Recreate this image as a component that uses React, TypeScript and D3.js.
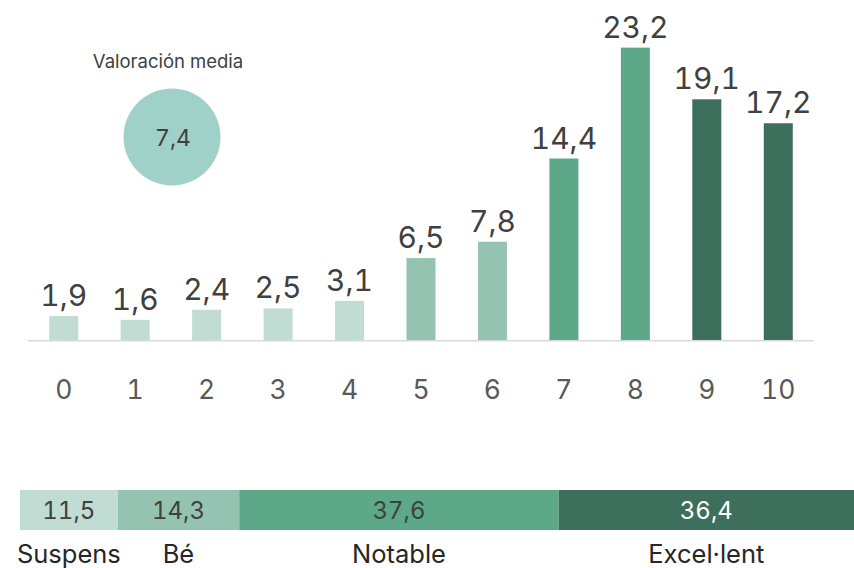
import React from "react";
import * as d3 from "d3";

const grades = ["0", "1", "2", "3", "4", "5", "6", "7", "8", "9", "10"];
const gradeValues = [1.9, 1.6, 2.4, 2.5, 3.1, 6.5, 7.8, 14.4, 23.2, 19.1, 17.2];
const gradeGroup = [0, 0, 0, 0, 0, 1, 1, 2, 2, 3, 3];

const groupNames = ["Suspens", "Bé", "Notable", "Excel·lent"];
const groupValues = [11.5, 14.3, 37.6, 36.4];
const groupColors = ["#c1ddd3", "#94c4b1", "#5ca888", "#3e6f5c"];
const groupTextColors = ["#404040", "#404040", "#404040", "#ffffff"];

const meanLabel = "Valoración media";
const meanValue = 7.4;

const W = 854;
const H = 568;
const FONT = "Inter, 'Open Sans', sans-serif";

const fmt = (v: number) => v.toFixed(1).replace(".", ",");

export default function App() {
  const x = d3
    .scaleBand<string>()
    .domain(grades)
    .range([28, 814])
    .paddingInner(0.594)
    .paddingOuter(0.297);
  const y = d3.scaleLinear().domain([0, 26.9]).range([340, 1]);

  const total = d3.sum(groupValues);
  const xs = d3.scaleLinear().domain([0, total]).range([20, 868]);
  const stack = d3.cumsum(groupValues);
  const starts = groupValues.map((v, i) => stack[i] - v);

  return (
    <svg
      width={W}
      height={H}
      style={{
        position: "absolute",
        left: 0,
        top: 0,
        background: "#fff",
        fontVariantNumeric: "tabular-nums",
      }}
      fontFamily={FONT}
    >
      {/* mean bubble */}
      <text x={168} y={68} textAnchor="middle" fontSize={18.5} fill="#404040">
        {meanLabel}
      </text>
      <circle cx={172} cy={137} r={48.5} fill="#9fd1c9" />
      <text x={173} y={145.5} textAnchor="middle" fontSize={23} fill="#404040">
        {fmt(meanValue)}
      </text>

      {/* bars */}
      {grades.map((g, i) => {
        const v = gradeValues[i];
        const bx = x(g)!;
        return (
          <g key={g}>
            <rect
              x={bx}
              y={y(v)}
              width={x.bandwidth()}
              height={y(0) - y(v)}
              fill={groupColors[gradeGroup[i]]}
            />
            <text
              x={bx + x.bandwidth() / 2}
              y={y(v) - 10}
              textAnchor="middle"
              fontSize={30}
              fill="#404040"
            >
              {fmt(v)}
            </text>
            <text
              x={bx + x.bandwidth() / 2}
              y={399}
              textAnchor="middle"
              fontSize={26.5}
              fill="#595959"
            >
              {g}
            </text>
          </g>
        );
      })}
      <line x1={28} x2={814} y1={340.75} y2={340.75} stroke="#d9d9d9" strokeWidth={1.5} />

      {/* stacked summary bar */}
      {groupNames.map((n, i) => {
        const x0 = xs(starts[i]);
        const x1 = xs(stack[i]);
        const cx = (x0 + Math.min(x1, W)) / 2;
        return (
          <g key={n}>
            <rect x={x0} y={490} width={x1 - x0} height={40} fill={groupColors[i]} />
            <text x={cx} y={518.5} textAnchor="middle" fontSize={24} fill={groupTextColors[i]}>
              {fmt(groupValues[i])}
            </text>
            <text x={cx} y={563} textAnchor="middle" fontSize={25.5} fill="#262626">
              {n}
            </text>
          </g>
        );
      })}
    </svg>
  );
}
